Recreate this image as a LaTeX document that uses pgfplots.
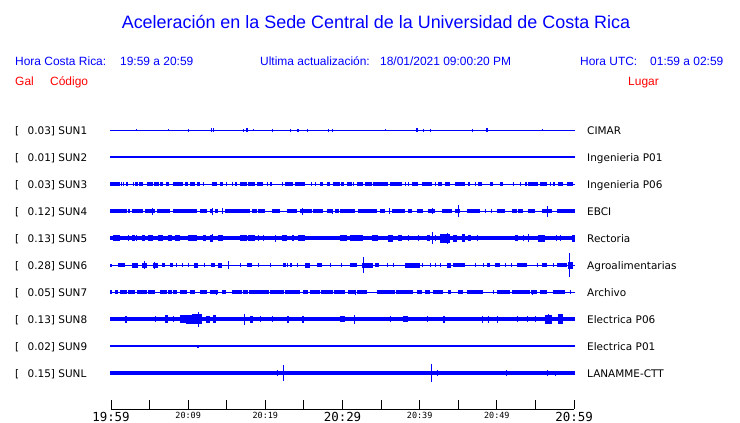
\documentclass[border=0pt]{standalone}
\usepackage{pgfplots}
\pgfplotsset{compat=1.18}
\usepackage{pgfplotstable}
\usepackage{fontspec}
\setmainfont{Liberation Sans}
\newfontfamily\dv{DejaVu Sans}
\newfontfamily\dvm{DejaVu Sans Mono}
\definecolor{tb}{RGB}{0,0,255}
\definecolor{tr}{RGB}{255,0,0}
\pgfdeclareplotmark{blk}{\pgfpathrectangle{\pgfpoint{0bp}{-\bh bp}}{\pgfpoint{\bw bp}{2*\bh bp}}\pgfusepathqfill}
\pgfplotsset{blocks/.style={only marks, mark=blk, scatter, point meta=\thisrow{h},
  scatter/@pre marker code/.code={\pgfsetfillcolor{tb}},
  scatter/@post marker code/.code={},
  visualization depends on={\thisrow{w}\as\bw},
  visualization depends on={\thisrow{h}\as\bh}},
  base/.style={tb, line width=#1bp, no marks}}

% SUN1
\pgfplotstableread{
x w h
136 1 1
168 1 1
188 1 1.5
211 1 2
213 1 2
243 1 1.5
246 2 2
253 1 1
272 1 1.5
290 1 1.5
297 2 1.5
307 1 1.5
328 1 1.5
332 1 1.5
385 1 1
416 2 2
423 1 1.5
430 1 1.5
472 1 1.5
486 2 2
542 1 1
}\sunA
% SUN3
\pgfplotstableread{
x w h
110 10 1.7
121 1 1.7
123 1 2
126 2 1.7
133 1 1.7
135 3 1.7
139 4 1.7
147 6 1.7
154 5 1.7
160 3 1.7
166 3 1.7
173 10 1.7
185 3 1.7
190 5 1.7
197 3 1.7
203 1 1.7
212 5 1.7
220 3 1.7
226 1 1.7
232 1 1.7
235 2 1.7
240 7 1.7
248 7 1.7
257 6 1.7
267 1 1.7
270 2 1.7
282 1 1.7
285 8 1.7
295 10 1.7
311 1 1.7
315 1 1.7
320 3 1.7
327 3 1.7
333 7 1.7
341 3 1.7
347 5 1.7
353 1 1.7
357 6 1.7
365 7 1.7
373 15 1.7
390 12 1.7
405 1 1.7
408 1 1.7
412 6 1.7
422 10 1.7
435 1 1.7
438 4 1.7
445 5 1.7
455 10 1.7
468 2 1.7
475 1 1.7
478 4 1.7
490 3 1.7
500 3 1.7
513 1 1.7
520 1 1.7
525 2 1.7
528 10 1.7
540 7 1.7
550 1 1.7
553 2 1.7
558 5 1.7
567 6 1.7
}\sunC
% SUN4
\pgfplotstableread{
x w h
110 17 1.8
128 2 1.8
132 11 1.8
145 10 1.8
152 1 3.5
157 13 1.8
173 24 1.8
200 7 1.8
210 3 1.8
212 1 3.5
215 3 1.8
222 1 3
225 25 1.8
252 5 1.8
258 7 1.8
272 8 1.8
287 10 1.8
300 12 1.8
302 1 3.5
313 10 1.8
327 6 1.8
332 1 2.5
335 4 1.8
340 15 1.8
358 19 1.8
380 5 1.8
389 1 3
392 13 1.8
408 4 1.8
417 6 1.8
428 7 1.8
432 1 3
442 10 1.8
455 5 1.8
458 1 6
467 13 1.8
485 1 1.8
491 1 1.8
497 8 1.8
512 5 1.8
518 5 1.8
528 7 2.3
542 10 1.8
547 1 5.5
557 18 1.8
}\sunD
% SUN5
\pgfplotstableread{
x w h
113 7 3.3
128 1 3
132 3 3.3
136 1 3
142 3 3
148 5 3.3
158 5 3
168 4 3
175 5 3.3
188 9 3.3
203 3 3
210 3 3.5
212 1 4
218 5 3
240 7 3.3
248 7 3
258 1 3
263 1 3
275 1 3.5
282 5 3
292 2 3
298 7 3.3
340 7 3
350 13 3
372 6 3
388 5 3.5
398 4 3
408 1 3
418 1 3
427 3 3
432 1 6
435 1 3
440 10 4.5
447 1 5.5
453 4 3.5
462 3 4
468 3 3
477 1 3
515 3 3
523 1 3
528 1 4
538 7 3.5
556 1 3
560 1 3
572 3 3.5
}\sunE
% SUN6
\pgfplotstableread{
x w h
110 2 1.5
118 7 2
132 6 2.5
142 5 2.5
144 1 4
153 5 2.5
154 1 3.5
162 3 1.8
170 3 1.8
176 1 1.8
182 1 1.8
188 1 1.8
194 4 2.5
204 1 1.8
211 4 1.8
218 4 2.5
228 1 4
240 1 1.8
247 5 1.8
258 1 1.8
270 1 1.8
283 3 1.8
287 1 1.8
290 2 1.8
297 1 1.8
305 5 2.5
317 5 1.8
330 1 1.8
341 1 1.8
350 7 1.8
362 11 2.5
363 1 8
375 4 1.8
387 1 1.8
393 1 1.8
405 15 2.5
422 1 1.8
430 1 1.8
435 1 1.8
440 1 1.8
447 4 2.5
453 12 1.8
475 1 1.8
483 1 1.8
487 3 1.8
495 5 1.8
505 1 1.8
511 1 1.8
517 10 1.8
537 1 1.8
542 5 1.8
553 1 1.8
557 10 1.8
568 5 3.5
569 1 12
}\sunF
% SUN7
\pgfplotstableread{
x w h
110 2 1.7
115 3 1.7
120 7 1.7
128 7 2
137 10 1.7
148 7 1.7
160 7 1.7
168 4 1.7
173 4 1.7
180 7 1.7
190 5 1.7
200 7 1.7
210 8 2.2
216 1 2.5
222 4 1.7
232 10 2.2
243 5 1.7
249 20 1.7
270 14 1.7
285 15 1.7
303 5 1.7
310 10 1.7
321 12 1.7
334 6 1.7
340 5 1.7
348 8 1.7
355 1 2.5
357 10 1.7
377 18 1.7
396 17 1.7
417 5 1.7
425 5 1.7
433 10 2.2
448 3 1.7
458 5 1.7
467 16 1.7
493 1 1.7
497 13 1.7
512 18 1.7
531 6 1.7
532 1 2.5
540 7 1.7
553 12 1.7
570 1 1.7
}\sunG
% SUN8
\pgfplotstableread{
x w h
125 2 3.5
155 1 2.8
165 3 4
173 1 3
180 7 4
186 6 4.5
192 10 5
198 1 7.5
206 4 3.5
213 3 4
244 1 5.5
250 3 3.5
260 1 3
272 1 3
287 2 3.5
302 2 3.5
340 5 3
354 1 4.5
390 1 3
403 5 3
427 1 3
443 2 3.5
482 1 3.5
488 1 3.5
497 1 3.5
517 1 3
527 1 3
535 1 3
545 7 4.5
548 1 5
558 5 5
}\sunH
% SUN9
\pgfplotstableread{
x w h
197 2 1.5
295 1 1
}\sunI
% SUNL
\pgfplotstableread{
x w h
277 1 3
283 1 8
431 1 9
437 1 3
506 1 3
547 1 3
555 1 2.5
}\sunL

\newcommand\bigt{\dvm\fontsize{12.5}{13}\selectfont}
\newcommand\smlt{\dvm\fontsize{8.5}{9}\selectfont}

\begin{document}
\begin{tikzpicture}
\path[use as bounding box] (0,0) rectangle (740bp,-423bp);
\begin{axis}[at={(111bp,-409bp)}, anchor=south west, scale only axis,
  width=463bp, height=294bp, xmin=111, xmax=574, ymin=-409, ymax=-115,
  axis x line*=bottom, axis y line=none, clip=false,
  axis line style={black, line width=0.9bp},
  tick align=inside, major tick length=9bp, minor tick length=9bp,
  tick style={black, line width=0.9bp},
  xtick={111,188.17,265.33,342.5,419.67,496.83,574},
  minor xtick={149.58,226.75,303.92,381.08,458.25,535.42},
  xticklabels={{\bigt 19:59},{\smlt 20:09},{\smlt 20:19},{\bigt 20:29},{\smlt 20:39},{\smlt 20:49},{\bigt 20:59}},
  xticklabel style={anchor=north, inner sep=0pt, yshift=-3bp},
  ytick=\empty]
\addplot[base=1] coordinates {(110,-130) (575,-130)};
\addplot[blocks] table[x=x, y expr=-130] {\sunA};
\addplot[base=1.2] coordinates {(110,-157) (575,-157)};
\addplot[base=1] coordinates {(110,-184) (575,-184)};
\addplot[blocks] table[x=x, y expr=-184] {\sunC};
\addplot[base=1] coordinates {(110,-211) (575,-211)};
\addplot[blocks] table[x=x, y expr=-211] {\sunD};
\addplot[base=3.3] coordinates {(110,-238) (575,-238)};
\addplot[blocks] table[x=x, y expr=-238] {\sunE};
\addplot[base=1] coordinates {(110,-265) (575,-265)};
\addplot[blocks] table[x=x, y expr=-265] {\sunF};
\addplot[base=1] coordinates {(110,-292) (575,-292)};
\addplot[blocks] table[x=x, y expr=-292] {\sunG};
\addplot[base=4.3] coordinates {(110,-319) (575,-319)};
\addplot[blocks] table[x=x, y expr=-319] {\sunH};
\addplot[base=1.1] coordinates {(110,-346) (575,-346)};
\addplot[blocks] table[x=x, y expr=-346] {\sunI};
\addplot[base=4.7] coordinates {(110,-373) (575,-373)};
\addplot[blocks] table[x=x, y expr=-373] {\sunL};
\end{axis}

\node[tb, font=\fontsize{18}{21}\selectfont] at (376bp,-22bp) {Aceleración en la Sede Central de la Universidad de Costa Rica};
\begin{scope}[every node/.style={inner sep=0pt, anchor=base west, font=\fontsize{12}{14}\selectfont}]
\node[tb] at (15bp,-65.5bp) {Hora Costa Rica:};
\node[tb] at (120bp,-65.5bp) {19:59 a 20:59};
\node[tb] at (260bp,-65.5bp) {Ultima actualización:};
\node[tb] at (380bp,-65.5bp) {18/01/2021 09:00:20 PM};
\node[tb] at (580bp,-65.5bp) {Hora UTC:};
\node[tb] at (650bp,-65.5bp) {01:59 a 02:59};
\node[tr] at (15bp,-85bp) {Gal};
\node[tr] at (50bp,-85bp) {Código};
\node[tr] at (628bp,-85bp) {Lugar};
\end{scope}
\begin{scope}[every node/.style={inner sep=0pt, anchor=base west, font=\dv\fontsize{10.5}{12}\selectfont}]
\foreach \v/\c/\p [count=\i from 0] in {0.03/SUN1/CIMAR, 0.01/SUN2/Ingenieria P01, 0.03/SUN3/Ingenieria P06, 0.12/SUN4/EBCI, 0.13/SUN5/Rectoria, 0.28/SUN6/Agroalimentarias, 0.05/SUN7/Archivo, 0.13/SUN8/Electrica P06, 0.02/SUN9/Electrica P01, 0.15/SUNL/LANAMME-CTT}{
  \pgfmathsetmacro\yy{-134-27*\i}
  \node at (15bp,\yy bp) {[};
  \node at (27.5bp,\yy bp) {\v] \c};
  \node at (587bp,\yy bp) {\p};
}
\end{scope}
\end{tikzpicture}
\end{document}
